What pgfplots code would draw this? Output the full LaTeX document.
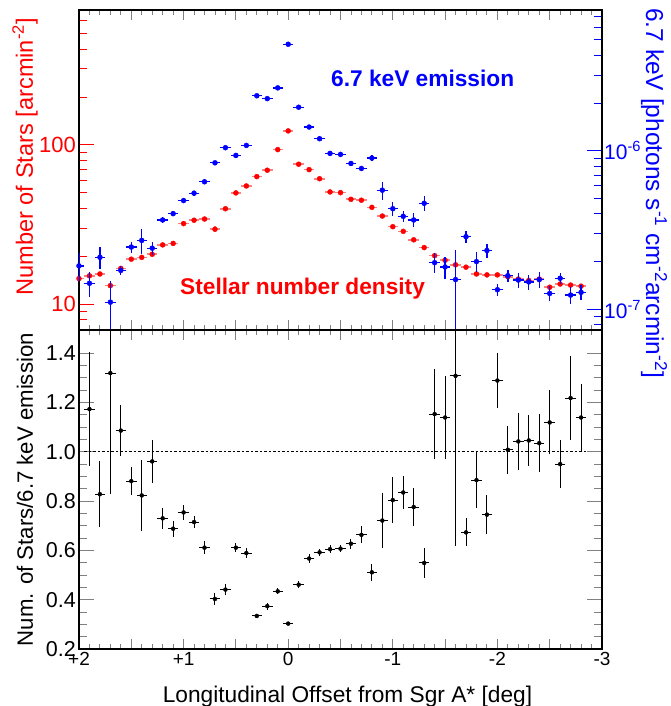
\documentclass[border=0pt]{standalone}
\usepackage{pgfplots}
\pgfplotsset{compat=1.18}
\usepackage{pgfplotstable}
\usepackage{fontspec}
\setmainfont{Liberation Sans}

% profile along the plane: stellar density and 6.7 keV surface brightness
\pgfplotstableread{
x     stars  estars  fe        efe
2.0   14.5   0.3     1.88e-7   3.8e-8
1.9   15.1   0.3     1.46e-7   2.6e-8
1.8   15.5   0.3     2.13e-7   3.4e-8
1.7   13.1   0.6     1.11e-7   4.1e-8
1.6   16.8   0.6     1.76e-7   1.2e-8
1.5   19.2   0.3     2.47e-7   2.0e-8
1.4   19.7   0.3     2.72e-7   4.9e-8
1.3   20.6   0.4     2.43e-7   2.2e-8
1.2   23.6   0.4     3.66e-7   1.5e-8
1.1   24.1   0.4     4.01e-7   1.5e-8
1.0   32.1   0.5     4.85e-7   1.8e-8
0.9   33.7   0.5     5.40e-7   2.0e-8
0.8   34.3   0.5     6.37e-7   2.2e-8
0.7   29.6   1.2     8.39e-7   2.5e-8
0.6   39.8   0.6     1.045e-6  3.0e-8
0.5   50.0   0.7     9.34e-7   3.0e-8
0.4   55.3   0.8     1.08e-6   3.0e-8
0.3   63.3   0.8     2.22e-6   5.0e-8
0.2   69.4   0.9     2.13e-6   5.0e-8
0.1   93.5   1.2     2.49e-6   5.0e-8
0.0   122.5  1.5     4.69e-6   8.0e-8
-0.1  75.7   1.0     1.88e-6   5.0e-8
-0.2  70.0   1.0     1.41e-6   4.0e-8
-0.3  61.4   0.9     1.19e-6   4.0e-8
-0.4  50.7   0.8     9.62e-7   3.0e-8
-0.5  50.2   0.8     9.48e-7   3.0e-8
-0.6  45.6   0.7     8.31e-7   3.0e-8
-0.7  45.0   0.7     7.73e-7   3.0e-8
-0.8  40.6   0.6     8.99e-7   4.0e-8
-0.9  35.8   0.6     5.64e-7   7.5e-8
-1.0  30.7   0.5     4.31e-7   4.6e-8
-1.1  28.7   0.5     3.86e-7   2.9e-8
-1.2  25.4   0.4     3.66e-7   3.7e-8
-1.3  22.7   0.4     4.66e-7   5.2e-8
-1.4  20.2   0.4     1.97e-7   2.8e-8
-1.5  18.9   0.3     1.85e-7   2.9e-8
-1.6  17.7   0.3     1.54e-7   8.2e-8
-1.7  17.1   0.3     2.87e-7   2.6e-8
-1.8  15.5   0.3     2.00e-7   2.9e-8
-1.9  15.3   0.3     2.35e-7   2.5e-8
-2.0  15.3   0.3     1.33e-7   1.2e-8
-2.1  14.9   0.3     1.63e-7   1.5e-8
-2.2  14.4   0.3     1.53e-7   1.6e-8
-2.3  14.1   0.3     1.49e-7   1.6e-8
-2.4  14.4   0.3     1.54e-7   1.8e-8
-2.5  12.8   0.3     1.26e-7   1.35e-8
-2.6  13.4   0.3     1.57e-7   1.2e-8
-2.7  13.2   0.3     1.23e-7   1.5e-8
-2.8  13.0   0.3     1.28e-7   1.4e-8
}\profile

% ratio stars / 6.7 keV
\pgfplotstableread{
x     r      er
1.9   1.173  0.230
1.8   0.828  0.135
1.7   1.319  0.490
1.6   1.086  0.105
1.5   0.881  0.058
1.4   0.823  0.144
1.3   0.961  0.088
1.2   0.730  0.042
1.1   0.688  0.033
1.0   0.754  0.032
0.9   0.715  0.024
0.8   0.611  0.027
0.7   0.403  0.026
0.6   0.441  0.021
0.5   0.611  0.017
0.4   0.589  0.020
0.3   0.334  0.010
0.2   0.374  0.014
0.1   0.434  0.012
0.0   0.303  0.005
-0.1  0.461  0.014
-0.2  0.567  0.018
-0.3  0.592  0.015
-0.4  0.605  0.015
-0.5  0.607  0.015
-0.6  0.627  0.020
-0.7  0.663  0.034
-0.8  0.511  0.034
-0.9  0.721  0.110
-1.0  0.804  0.093
-1.1  0.835  0.066
-1.2  0.776  0.078
-1.3  0.549  0.060
-1.4  1.153  0.183
-1.5  1.139  0.168
-1.6  1.308  0.690
-1.7  0.673  0.057
-1.8  0.885  0.113
-1.9  0.745  0.080
-2.0  1.289  0.111
-2.1  1.008  0.098
-2.2  1.042  0.116
-2.3  1.046  0.105
-2.4  1.035  0.117
-2.5  1.119  0.130
-2.6  0.950  0.096
-2.7  1.218  0.170
-2.8  1.139  0.136
}\ratio

\begin{document}
\begin{tikzpicture}
\path[use as bounding box] (-79pt,-57pt) rectangle (591pt,649pt);
\pgfplotsset{
  every axis/.append style={
    scale only axis, width=523pt,
    x dir=reverse, xmin=-3, xmax=2,
    xtick={-3,-2.5,-2,-1.5,-1,-0.5,0,0.5,1,1.5,2}, minor x tick num=4,
    tick align=inside,
    major tick length=10pt, minor tick length=5pt,
    axis line style={line width=1.1pt},
    every tick/.append style={line width=0.9pt},
  },
}

% top panel, stars (left axis)
\begin{axis}[
  at={(0,319pt)}, anchor=south west, height=320pt,
  ymode=log, ymin=6.9, ymax=703,
  ytick={10,100}, yticklabels={10,100},
  minor ytick={7,8,9,20,30,40,50,60,70,80,90,200,300,400,500,600,700},
  ytick pos=left,
  ytick style={red, /pgfplots/major tick length=15pt, /pgfplots/minor tick length=8pt},
  yticklabel style={red, font=\fontsize{22}{22}\selectfont, inner xsep=3pt},
  xticklabels={},
]
\addplot[red, only marks, mark=*, mark size=2.5pt,
  error bars/.cd, x dir=both, x fixed=0.05, y dir=both, y explicit,
  error mark=none, error bar style={red!50, line width=1.6pt}]
  table[x=x, y=stars, y error=estars] {\profile};
\end{axis}

% top panel, 6.7 keV (right axis)
\begin{axis}[
  at={(0,319pt)}, anchor=south west, height=320pt,
  ymode=log, ymin=7.41e-8, ymax=7.71e-6,
  axis x line=none, axis y line*=right, axis line style={-},
  ytick={1e-7,1e-6},
  yticklabels={10\textsuperscript{-7},10\textsuperscript{-6}},
  minor ytick={8e-8,9e-8,2e-7,3e-7,4e-7,5e-7,6e-7,7e-7,8e-7,9e-7,2e-6,3e-6,4e-6,5e-6,6e-6,7e-6},
  ytick style={blue, /pgfplots/major tick length=15pt, /pgfplots/minor tick length=8pt},
  yticklabel style={blue, font=\fontsize{21}{21}\selectfont, inner xsep=2pt},
]
\addplot[blue, only marks, mark=*, mark size=2.5pt,
  error bars/.cd, x dir=both, x fixed=0.05, y dir=both, y explicit,
  error mark=none, error bar style={blue, line width=1.3pt}]
  table[x=x, y=fe, y error=efe] {\profile};
\end{axis}

% bottom panel, ratio
\begin{axis}[
  at={(0,0)}, anchor=south west, height=319pt,
  ymin=0.2, ymax=1.494,
  ytick={0.2,0.4,0.6,0.8,1.0,1.2,1.4},
  yticklabels={0.2,0.4,0.6,0.8,1.0,1.2,1.4},
  minor y tick num=3,
  ytick style={/pgfplots/major tick length=15pt, /pgfplots/minor tick length=8pt},
  yticklabel style={font=\fontsize{21.5}{21.5}\selectfont, inner xsep=3pt},
  xticklabels={-3,,-2,,-1,,0,,+1,,+2},
  xticklabel style={font=\fontsize{19}{19}\selectfont},
]
\addplot[black, dash pattern=on 2.5pt off 2pt, line width=0.8pt]
  coordinates {(1.95,1) (-2.85,1)};
\addplot[black, only marks, mark=*, mark options={draw=none, fill=none},
  error bars/.cd, x dir=both, x fixed=0.05, y dir=both, y explicit,
  error mark=none, error bar style={black, line width=0.95pt}]
  table[x=x, y=r, y error=er] {\ratio};
\end{axis}

% texts, placed in pixel coordinates of the reference
\begin{scope}[x=1pt, y=-1pt, shift={(-79pt,649pt)}]
\node[rotate=90, anchor=base east, inner sep=0pt, red,
  font=\fontsize{23.6}{23.6}\selectfont] at (33,18)
  {Number of Stars [arcmin\textsuperscript{-2}]};
\node[rotate=90, anchor=base east, inner sep=0pt,
  font=\fontsize{22.2}{22.2}\selectfont] at (33,333)
  {Num. of Stars/6.7 keV emission};
\node[rotate=-90, anchor=base west, inner sep=0pt, blue,
  font=\fontsize{24.5}{24.5}\selectfont] at (646,8)
  {6.7 keV [photons s\textsuperscript{-1} cm\textsuperscript{-2}arcmin\textsuperscript{-2}]};
\node[anchor=base, inner sep=0pt, font=\fontsize{22.7}{22.7}\selectfont]
  at (347.5,702) {Longitudinal Offset from Sgr A* [deg]};
\node[anchor=base west, inner sep=0pt, blue,
  font=\bfseries\fontsize{22.7}{22.7}\selectfont] at (331,87) {6.7 keV emission};
\node[anchor=base west, inner sep=0pt, red,
  font=\bfseries\fontsize{22.7}{22.7}\selectfont] at (180,295) {Stellar number density};
\end{scope}
\end{tikzpicture}
\end{document}
